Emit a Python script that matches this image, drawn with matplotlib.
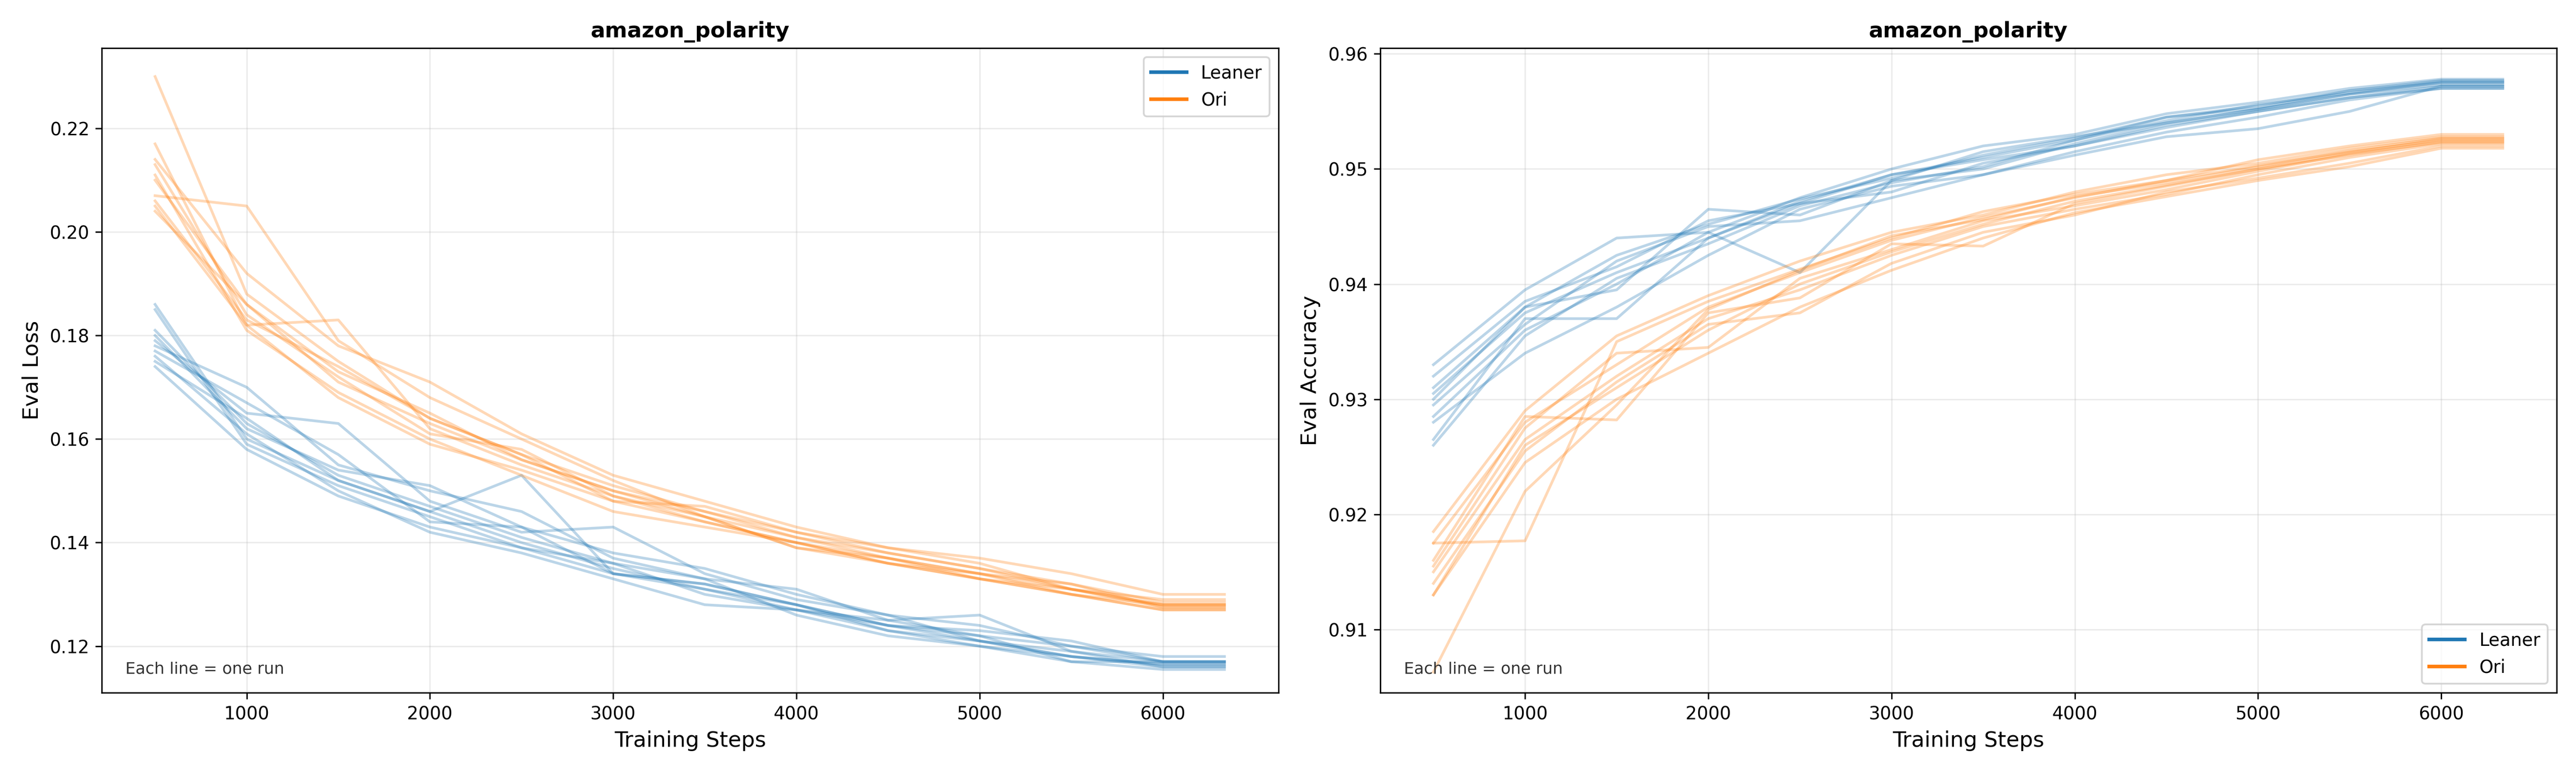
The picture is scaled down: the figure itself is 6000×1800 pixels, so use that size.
import matplotlib
matplotlib.use("Agg")
import matplotlib.pyplot as plt

STEPS = [500, 1000, 1500, 2000, 2500, 3000, 3500, 4000, 4500, 5000, 5500, 6000, 6336]

LEANER_LOSS = [
    [0.186, 0.160, 0.152, 0.146, 0.140, 0.135, 0.131, 0.127, 0.124, 0.121, 0.118, 0.1165, 0.1165],
    [0.185, 0.159, 0.151, 0.145, 0.139, 0.134, 0.132, 0.128, 0.123, 0.121, 0.119, 0.116, 0.116],
    [0.181, 0.163, 0.153, 0.147, 0.141, 0.136, 0.130, 0.127, 0.125, 0.122, 0.117, 0.117, 0.117],
    [0.179, 0.165, 0.163, 0.148, 0.142, 0.143, 0.134, 0.129, 0.126, 0.121, 0.118, 0.116, 0.116],
    [0.178, 0.170, 0.155, 0.150, 0.146, 0.137, 0.133, 0.131, 0.125, 0.126, 0.119, 0.117, 0.117],
    [0.177, 0.167, 0.157, 0.144, 0.143, 0.134, 0.132, 0.128, 0.124, 0.122, 0.120, 0.118, 0.118],
    [0.176, 0.161, 0.150, 0.142, 0.138, 0.133, 0.128, 0.127, 0.123, 0.120, 0.117, 0.1155, 0.1155],
    [0.175, 0.164, 0.152, 0.146, 0.153, 0.134, 0.131, 0.128, 0.124, 0.123, 0.121, 0.117, 0.117],
    [0.174, 0.158, 0.149, 0.143, 0.139, 0.136, 0.133, 0.126, 0.122, 0.120, 0.118, 0.1165, 0.1165],
    [0.180, 0.162, 0.154, 0.151, 0.143, 0.138, 0.135, 0.130, 0.126, 0.124, 0.120, 0.117, 0.117],
]

ORI_LOSS = [
    [0.230, 0.188, 0.175, 0.164, 0.157, 0.151, 0.146, 0.142, 0.138, 0.135, 0.131, 0.128, 0.128],
    [0.217, 0.182, 0.183, 0.162, 0.155, 0.149, 0.144, 0.140, 0.137, 0.134, 0.132, 0.1275, 0.1275],
    [0.214, 0.192, 0.178, 0.171, 0.161, 0.153, 0.148, 0.143, 0.139, 0.136, 0.131, 0.129, 0.129],
    [0.213, 0.184, 0.172, 0.161, 0.158, 0.149, 0.145, 0.139, 0.137, 0.133, 0.130, 0.127, 0.127],
    [0.211, 0.181, 0.169, 0.160, 0.153, 0.146, 0.143, 0.140, 0.136, 0.134, 0.131, 0.128, 0.128],
    [0.210, 0.186, 0.171, 0.163, 0.156, 0.150, 0.146, 0.141, 0.138, 0.135, 0.132, 0.1285, 0.1285],
    [0.207, 0.205, 0.179, 0.168, 0.160, 0.152, 0.145, 0.139, 0.136, 0.133, 0.130, 0.127, 0.127],
    [0.206, 0.183, 0.174, 0.164, 0.157, 0.148, 0.147, 0.142, 0.139, 0.137, 0.134, 0.130, 0.130],
    [0.205, 0.182, 0.168, 0.159, 0.154, 0.148, 0.144, 0.140, 0.136, 0.133, 0.131, 0.1275, 0.1275],
    [0.204, 0.186, 0.173, 0.165, 0.156, 0.150, 0.145, 0.141, 0.137, 0.134, 0.130, 0.128, 0.128],
]

LEANER_ACC = [
    [0.9330, 0.9395, 0.9440, 0.9445, 0.9475, 0.9500, 0.9520, 0.9530, 0.9548, 0.9558, 0.9570, 0.9578, 0.9578],
    [0.9320, 0.9385, 0.9415, 0.9455, 0.9470, 0.9495, 0.9510, 0.9525, 0.9545, 0.9555, 0.9568, 0.9575, 0.9575],
    [0.9310, 0.9380, 0.9395, 0.9465, 0.9460, 0.9490, 0.9515, 0.9528, 0.9540, 0.9552, 0.9565, 0.9573, 0.9573],
    [0.9305, 0.9375, 0.9410, 0.9440, 0.9470, 0.9480, 0.9505, 0.9520, 0.9536, 0.9550, 0.9562, 0.9572, 0.9572],
    [0.9295, 0.9365, 0.9420, 0.9450, 0.9455, 0.9475, 0.9495, 0.9515, 0.9532, 0.9545, 0.9560, 0.9570, 0.9570],
    [0.9285, 0.9360, 0.9400, 0.9445, 0.9410, 0.9490, 0.9500, 0.9522, 0.9540, 0.9552, 0.9565, 0.9575, 0.9575],
    [0.9280, 0.9340, 0.9380, 0.9425, 0.9465, 0.9485, 0.9495, 0.9512, 0.9528, 0.9535, 0.9550, 0.9572, 0.9572],
    [0.9265, 0.9370, 0.9370, 0.9440, 0.9472, 0.9495, 0.9508, 0.9520, 0.9538, 0.9550, 0.9562, 0.9570, 0.9570],
    [0.9260, 0.9355, 0.9405, 0.9435, 0.9468, 0.9488, 0.9502, 0.9525, 0.9542, 0.9556, 0.9566, 0.9576, 0.9576],
    [0.9300, 0.9380, 0.9425, 0.9452, 0.9474, 0.9492, 0.9512, 0.9527, 0.9545, 0.9553, 0.9568, 0.9577, 0.9577],
]

ORI_ACC = [
    [0.9185, 0.9290, 0.9355, 0.9390, 0.9420, 0.9445, 0.9460, 0.9480, 0.9495, 0.9505, 0.9518, 0.9528, 0.9528],
    [0.9175, 0.9177, 0.9350, 0.9385, 0.9413, 0.9440, 0.9463, 0.9478, 0.9490, 0.9508, 0.9520, 0.9530, 0.9530],
    [0.9175, 0.9280, 0.9330, 0.9380, 0.9410, 0.9438, 0.9458, 0.9475, 0.9490, 0.9503, 0.9515, 0.9525, 0.9525],
    [0.9160, 0.9285, 0.9282, 0.9375, 0.9388, 0.9435, 0.9433, 0.9470, 0.9485, 0.9500, 0.9512, 0.9524, 0.9524],
    [0.9155, 0.9275, 0.9340, 0.9345, 0.9405, 0.9430, 0.9455, 0.9468, 0.9482, 0.9498, 0.9513, 0.9523, 0.9523],
    [0.9150, 0.9265, 0.9320, 0.9370, 0.9395, 0.9425, 0.9450, 0.9465, 0.9478, 0.9495, 0.9510, 0.9522, 0.9522],
    [0.9140, 0.9255, 0.9315, 0.9365, 0.9375, 0.9418, 0.9445, 0.9460, 0.9480, 0.9492, 0.9505, 0.9520, 0.9520],
    [0.9130, 0.9245, 0.9300, 0.9340, 0.9380, 0.9412, 0.9440, 0.9462, 0.9476, 0.9490, 0.9502, 0.9518, 0.9518],
    [0.9130, 0.9260, 0.9310, 0.9360, 0.9400, 0.9428, 0.9452, 0.9472, 0.9486, 0.9500, 0.9514, 0.9526, 0.9526],
    [0.9063, 0.9220, 0.9295, 0.9378, 0.9412, 0.9442, 0.9456, 0.9476, 0.9488, 0.9502, 0.9516, 0.9527, 0.9527],
]

BLUE = "#1f77b4"
ORANGE = "#ff7f0e"

fig, (ax1, ax2) = plt.subplots(1, 2, figsize=(20, 6))

panels = [
    (ax1, LEANER_LOSS, ORI_LOSS, "Eval Loss", "upper right", (0.111, 0.2355)),
    (ax2, LEANER_ACC, ORI_ACC, "Eval Accuracy", "lower right", (0.9045, 0.9605)),
]

for ax, leaner, ori, ylabel, loc, ylim in panels:
    for run in leaner:
        ax.plot(STEPS, run, color=BLUE, alpha=0.3, linewidth=1.5)
    for run in ori:
        ax.plot(STEPS, run, color=ORANGE, alpha=0.3, linewidth=1.5)
    ax.plot([], [], color=BLUE, linewidth=2, label="Leaner")
    ax.plot([], [], color=ORANGE, linewidth=2, label="Ori")
    ax.set_title("amazon_polarity", fontweight="bold", fontsize=12)
    ax.set_xlabel("Training Steps", fontsize=12)
    ax.set_ylabel(ylabel, fontsize=12)
    ax.set_xlim(210, 6630)
    ax.set_ylim(*ylim)
    ax.grid(True, alpha=0.25)
    ax.legend(loc=loc, fontsize=10)
    ax.text(0.02, 0.03, "Each line = one run", transform=ax.transAxes,
            fontsize=9, color="#333333")

plt.tight_layout()
plt.savefig("out.png", dpi=300)
